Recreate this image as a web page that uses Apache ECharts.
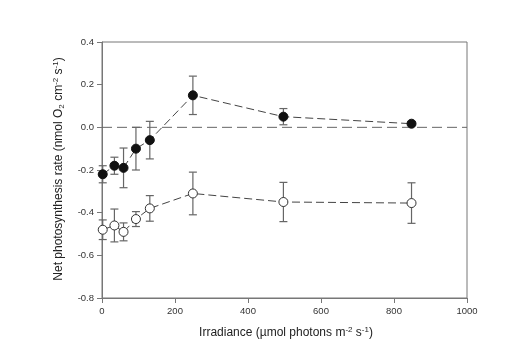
<!DOCTYPE html>
<html>
<head>
<meta charset="utf-8">
<script src="https://cdn.jsdelivr.net/npm/echarts@6/dist/echarts.min.js"></script>
<style>
  html, body { margin: 0; padding: 0; background: #fff; }
  #chart { width: 507px; height: 347px; }
</style>
</head>
<body>
<div id="chart"></div>
<script>
// Irradiance levels (µmol photons m-2 s-1)
var irradiance = [2, 34, 59, 93, 131, 249, 497, 848];
// Filled symbols: mean net photosynthesis and error
var filledMean = [-0.22, -0.18, -0.19, -0.10, -0.06, 0.15, 0.05, 0.017];
var filledErr  = [0.04, 0.04, 0.093, 0.10, 0.088, 0.09, 0.038, 0.008];
// Open symbols: mean net photosynthesis and error
var openMean = [-0.48, -0.46, -0.49, -0.43, -0.38, -0.31, -0.35, -0.355];
var openErr  = [0.046, 0.077, 0.042, 0.035, 0.06, 0.10, 0.092, 0.095];
// Axis ticks
var xTicks = [0, 200, 400, 600, 800, 1000];
var yTicks = [-0.8, -0.6, -0.4, -0.2, 0.0, 0.2, 0.4];
// Zero reference level
var zeroLevel = 0;

function pairs(xs, ys) {
  return xs.map(function (x, i) { return [x, ys[i]]; });
}
function errRows(xs, ys, es) {
  return xs.map(function (x, i) { return [x, ys[i] - es[i], ys[i] + es[i]]; });
}

function renderErr(params, api) {
  var x = api.value(0);
  var lo = api.coord([x, api.value(1)]);
  var hi = api.coord([x, api.value(2)]);
  var hw = 4;
  var style = { stroke: '#666', lineWidth: 1.2, fill: null };
  return {
    type: 'group',
    children: [
      { type: 'line', shape: { x1: lo[0], y1: lo[1], x2: hi[0], y2: hi[1] }, style: style },
      { type: 'line', shape: { x1: lo[0] - hw, y1: lo[1], x2: lo[0] + hw, y2: lo[1] }, style: style },
      { type: 'line', shape: { x1: hi[0] - hw, y1: hi[1], x2: hi[0] + hw, y2: hi[1] }, style: style }
    ]
  };
}

var font = 'Liberation Sans, Arial, sans-serif';
var titleRich = {
  n: { fontFamily: font, fontSize: 12, fill: '#222', color: '#222' },
  s: { fontFamily: font, fontSize: 8, fill: '#222', color: '#222', padding: [0, 0, 6, 0] },
  b: { fontFamily: font, fontSize: 8, fill: '#222', color: '#222', padding: [6, 0, 0, 0] }
};

var chart = echarts.init(document.getElementById('chart'), null, { renderer: 'canvas' });
chart.setOption({
  animation: false,
  backgroundColor: '#fff',
  grid: {
    left: 102, right: 40, top: 42, bottom: 49,
    show: true, borderColor: '#777', borderWidth: 1
  },
  graphic: [
    {
      type: 'text', x: 286, y: 333,
      style: {
        text: '{n|Irradiance (µmol photons m}{s|-2}{n| s}{s|-1}{n|)}',
        rich: titleRich, align: 'center', verticalAlign: 'middle'
      }
    },
    {
      type: 'text', x: 59, y: 169, rotation: Math.PI / 2,
      style: {
        text: '{n|Net photosynthesis rate (nmol O}{b|2}{n| cm}{s|-2}{n| s}{s|-1}{n|)}',
        rich: titleRich, align: 'center', verticalAlign: 'middle'
      }
    }
  ],
  xAxis: {
    type: 'value', min: xTicks[0], max: xTicks[xTicks.length - 1], interval: 200,
    splitLine: { show: false },
    axisLine: { onZero: false, lineStyle: { color: '#777', width: 1 } },
    axisTick: { inside: false, length: 5, lineStyle: { color: '#777' } },
    axisLabel: {
      color: '#333', fontFamily: font, fontSize: 9.5, margin: 8,
      formatter: function (v) { return String(v); }
    }
  },
  yAxis: {
    type: 'value', min: yTicks[0], max: yTicks[yTicks.length - 1], interval: 0.2,
    splitLine: { show: false },
    axisLine: { show: true, onZero: false, lineStyle: { color: '#777', width: 1 } },
    axisTick: { show: true, inside: false, length: 5, lineStyle: { color: '#777' } },
    axisLabel: {
      color: '#333', fontFamily: font, fontSize: 9.5, margin: 8,
      formatter: function (v) { return v.toFixed(1); }
    }
  },
  series: [
    {
      type: 'line', name: 'zero', z: 1, silent: true,
      data: [[xTicks[0], zeroLevel], [xTicks[xTicks.length - 1], zeroLevel]],
      symbol: 'none',
      lineStyle: { color: '#666', width: 1, type: [10, 5] }
    },
    {
      type: 'custom', name: 'filledErr', renderItem: renderErr, z: 2,
      data: errRows(irradiance, filledMean, filledErr),
      encode: { x: 0, y: [1, 2] }
    },
    {
      type: 'custom', name: 'openErr', renderItem: renderErr, z: 2,
      data: errRows(irradiance, openMean, openErr),
      encode: { x: 0, y: [1, 2] }
    },
    {
      type: 'line', name: 'filled', z: 5,
      data: pairs(irradiance, filledMean),
      symbol: 'circle', symbolSize: 9,
      lineStyle: { color: '#444', width: 1, type: [8, 4] },
      itemStyle: { color: '#111', borderColor: '#111', borderWidth: 1 }
    },
    {
      type: 'line', name: 'open', z: 5,
      data: pairs(irradiance, openMean),
      symbol: 'circle', symbolSize: 9,
      lineStyle: { color: '#444', width: 1, type: [8, 4] },
      itemStyle: { color: '#fff', borderColor: '#333', borderWidth: 1 }
    }
  ]
});
</script>
</body>
</html>
